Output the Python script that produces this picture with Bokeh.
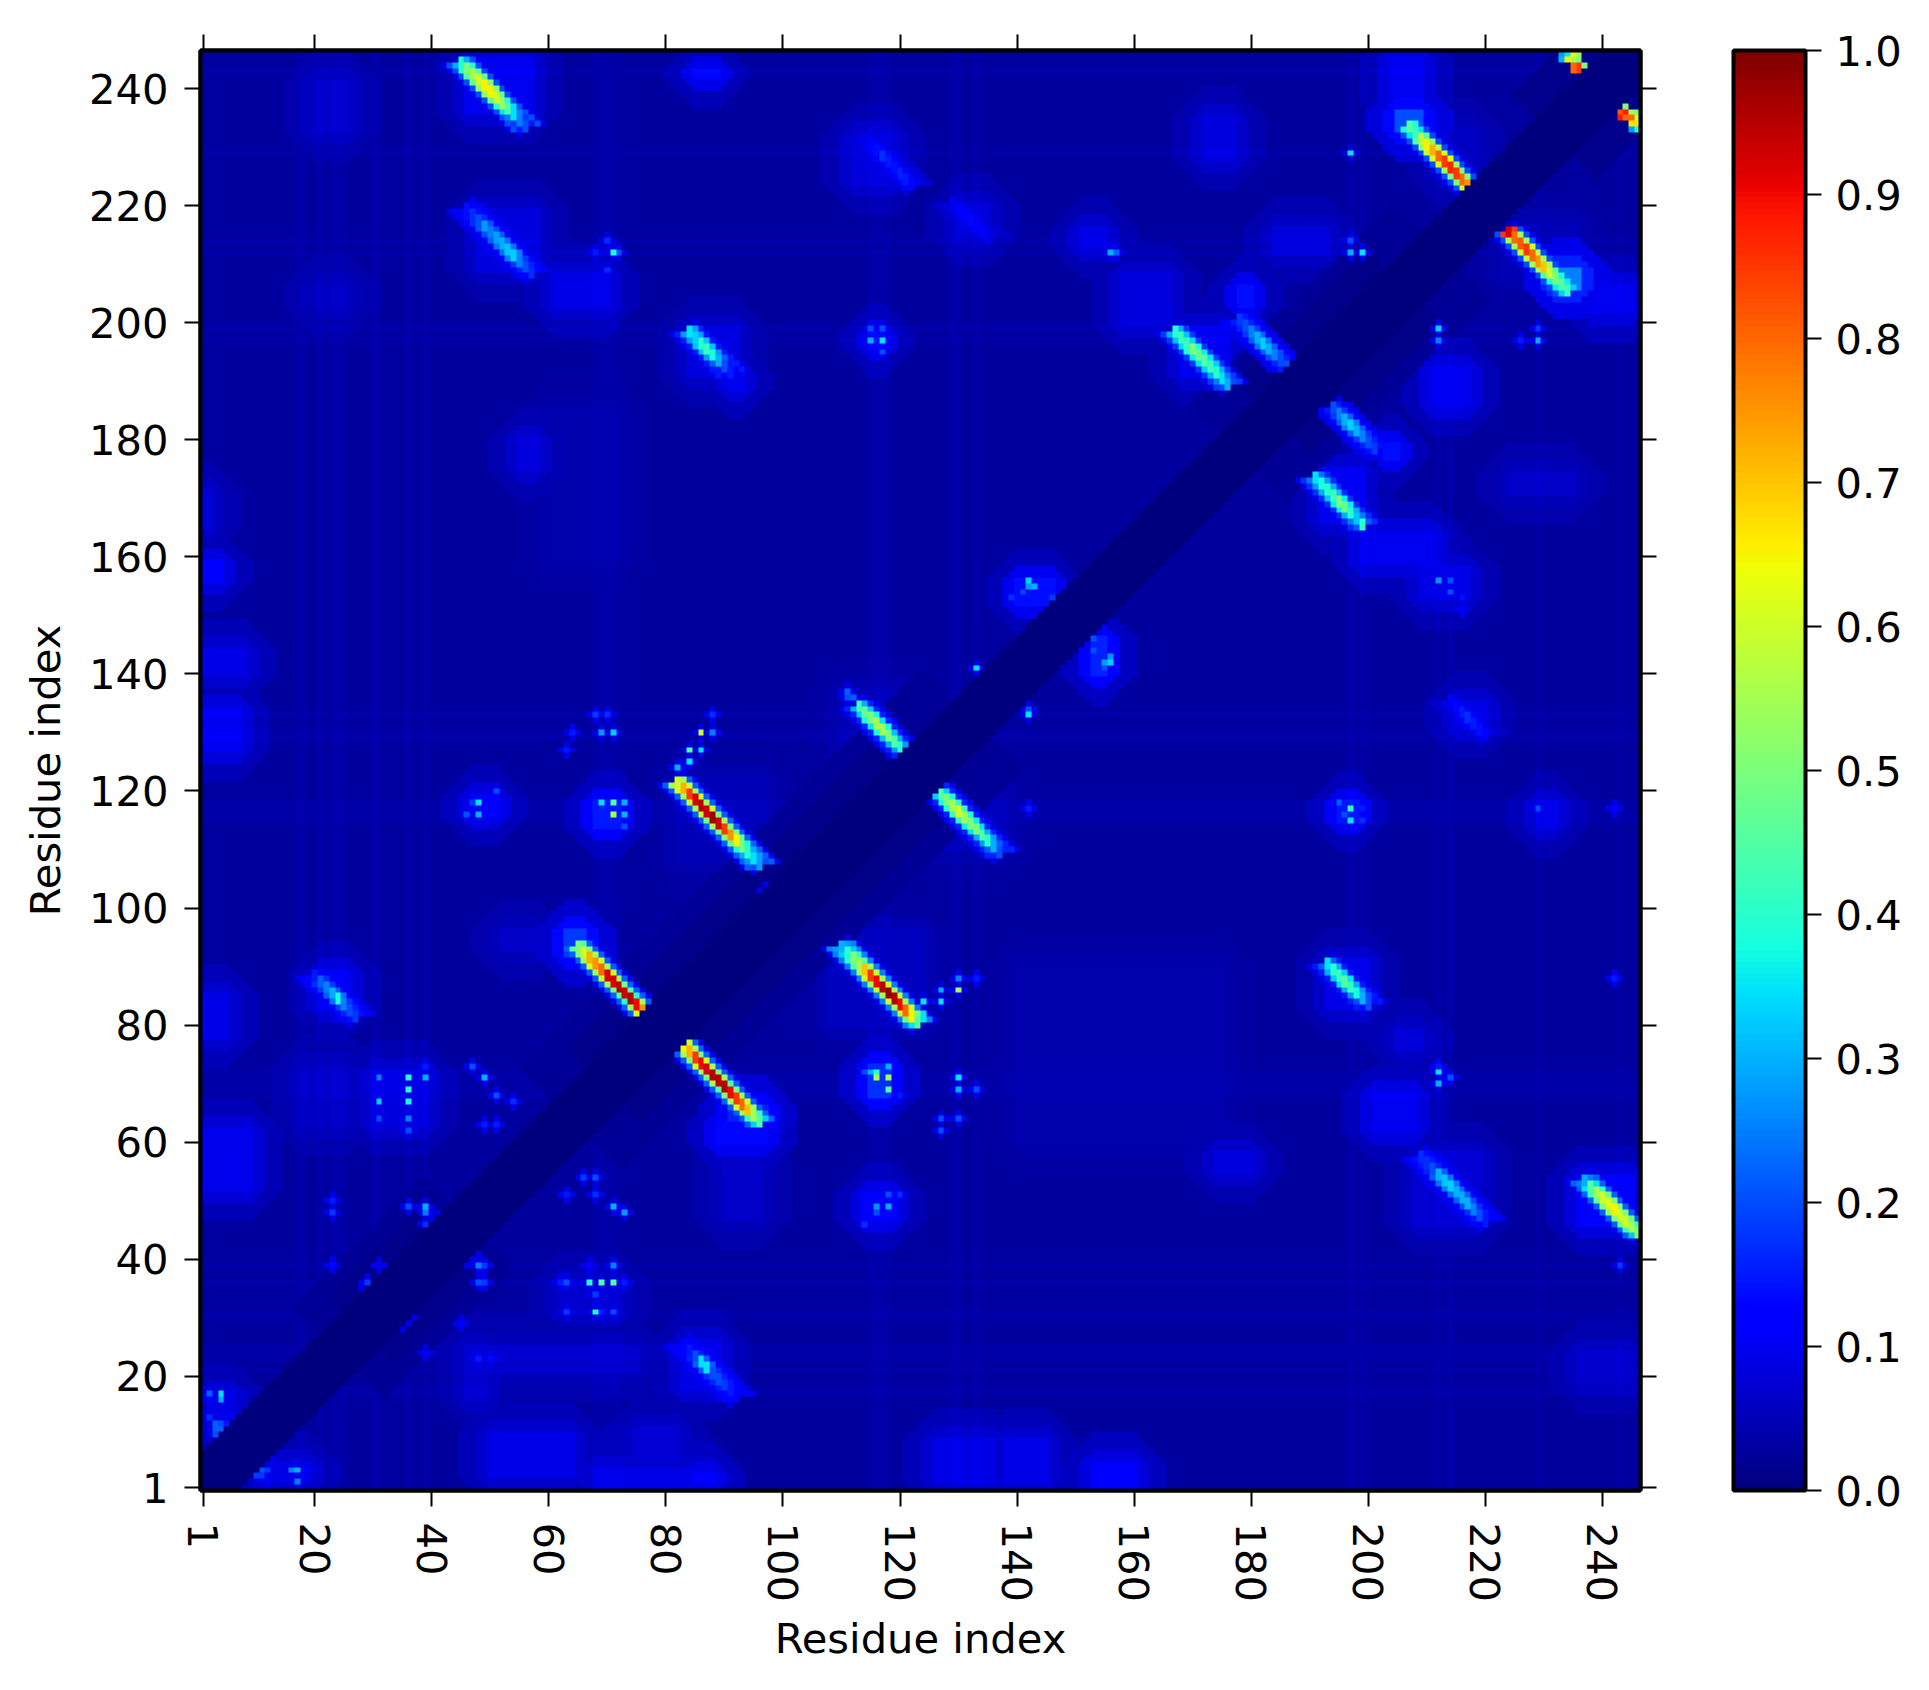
import numpy as np
from math import pi
from bokeh.plotting import figure
from bokeh.models import (LinearColorMapper, ColorBar, FixedTicker, LinearAxis, Range1d,
                          NumeralTickFormatter)
from bokeh.embed import file_html
from bokeh.resources import INLINE

N_RES = 246
AXIS_TICKS = [1, 20, 40, 60, 80, 100, 120, 140, 160, 180, 200, 220, 240]
CBAR_TICKS = [0.0, 0.1, 0.2, 0.3, 0.4, 0.5, 0.6, 0.7, 0.8, 0.9, 1.0]
AXIS_TITLE = "Residue index"

BASE_VALUE = 0.03
DIAG_HALF_WIDTH = 6
DIAG_VALUE = 0.002
# (first residue, last residue, half width, value): darker zones along the diagonal
DARK_BANDS = [(24, 46, 15, 0.02), (28, 42, 11, 0.012), (64, 132, 17, 0.02), (70, 125, 12, 0.011),
              (178, 212, 16, 0.02), (184, 206, 12, 0.011), (232, 246, 14, 0.012)]

# soft glows: (x0, x1, y0, y1, (core, middle ring, outer ring))
GLOWS = [
    (126, 136, 2, 9, (.09, .07, .05)), (138, 145, 2, 9, (.09, .07, .05)), (153, 160, 1, 5, (.11, .085, .055)),
    (50, 64, 3, 10, (.09, .07, .05)), (68, 88, 1, 4, (.09, .07, .05)), (75, 82, 6, 11, (.075, .06, .045)),
    (85, 88, 2, 3, (.12, .09, .06)), (236, 245, 19, 24, (.065, .055, .04)), (174, 180, 55, 58, (.085, .065, .045)),
    (201, 208, 62, 68, (.10, .08, .05)), (205, 209, 76, 79, (.08, .06, .045)), (236, 245, 46, 54, (.11, .08, .05)),
    (1, 9, 52, 62, (.095, .075, .05)), (1, 5, 78, 85, (.09, .07, .05)), (48, 75, 21, 25, (.065, .05, .04)),
    (90, 96, 47, 58, (.065, .05, .04)), (18, 26, 63, 73, (.06, .05, .04)), (52, 58, 93, 96, (.065, .05, .04)),
    (89, 97, 60, 63, (.13, .10, .06)), (95, 97, 103, 106, (.12, .09, .05)),
    (63, 66, 92, 96, (.18, .13, .07)), (91, 97, 64, 66, (.16, .12, .07)), (232, 236, 206, 209, (.25, .16, .09)),
    (205, 209, 233, 236, (.20, .13, .08)), (204, 209, 238, 245, (.10, .08, .05)), (172, 177, 228, 235, (.085, .065, .045)),
    (184, 193, 212, 216, (.08, .06, .045)), (158, 166, 200, 208, (.085, .065, .045)),
    (178, 180, 203, 206, (.14, .10, .05)), (211, 217, 186, 192, (.10, .08, .05)), (189, 192, 178, 180, (.10, .07, .045)),
    (224, 235, 171, 174, (.065, .05, .04)), (199, 211, 159, 164, (.10, .08, .05)), (238, 245, 202, 206, (.10, .08, .05)),
    (61, 70, 203, 208, (.09, .07, .05)), (91, 93, 189, 191, (.10, .08, .05)), (55, 58, 175, 180, (.085, .065, .045)),
    (1, 4, 156, 159, (.11, .085, .05)), (1, 8, 140, 144, (.09, .07, .05)), (1, 7, 127, 134, (.10, .08, .05)),
    (1, 2, 165, 171, (.08, .06, .045)), (20, 26, 233, 241, (.065, .055, .04)), (20, 26, 203, 206, (.06, .05, .04)),
    (112, 119, 224, 232, (.08, .065, .045)), (85, 89, 242, 243, (.13, .09, .05)), (203, 205, 177, 179, (.14, .10, .05)),
    (215, 220, 131, 135, (.09, .07, .045)), (209, 217, 153, 158, (.09, .07, .045)), (130, 135, 215, 220, (.08, .06, .045)),
    (151, 155, 213, 216, (.09, .07, .045)), (229, 232, 114, 118, (.09, .07, .045)),
    (140, 146, 152, 156, (.14, .10, .05)), (153, 155, 140, 146, (.16, .11, .06)), (114, 119, 47, 51, (.12, .085, .05)),
    (115, 118, 68, 73, (.16, .11, .06)), (68, 72, 114, 118, (.14, .10, .055)), (47, 51, 116, 119, (.12, .085, .05)),
    (30, 39, 63, 72, (.085, .065, .045)), (62, 72, 31, 36, (.07, .055, .04)), (195, 198, 115, 118, (.14, .10, .05)),
    (115, 117, 196, 198, (.13, .09, .05)), (83, 89, 18, 26, (.09, .07, .045)), (21, 26, 83, 89, (.10, .075, .045)),
    (46, 49, 16, 25, (.07, .055, .04)), (2, 6, 10, 17, (.09, .07, .045)), (10, 19, 2, 5, (.09, .07, .045)),
    (46, 57, 236, 245, (.10, .07, .045)), (48, 58, 209, 219, (.085, .06, .04)), (84, 92, 191, 199, (.085, .06, .04)),
    (168, 176, 191, 199, (.10, .07, .045)), (192, 199, 166, 175, (.10, .07, .045)), (208, 219, 46, 58, (.075, .055, .04)),
    (193, 200, 83, 91, (.09, .065, .04)), (108, 124, 80, 96, (.055, .045, .035)), (82, 97, 108, 122, (.05, .04, .035)),
    (110, 122, 126, 137, (.05, .04, .035)), (126, 138, 110, 121, (.05, .04, .035)), (212, 218, 225, 233, (.06, .05, .04)),
    (223, 236, 208, 217, (.05, .04, .035)), (60, 72, 160, 185, (.04, .036, .033)), (140, 175, 60, 90, (.04, .036, .033)),
]

# residues whose rows and columns look a little brighter
STRIPE_RESIDUES = [17, 18, 21, 23, 24, 25, 30, 31, 36, 39, 68, 69, 70, 71, 72, 115, 116, 117, 118,
                   129, 130, 133, 197, 199, 212, 214, 229, 243]
STRIPE_DELTA = 0.006
HALO_VALUE = 0.09
SPOT_HALO_VALUE = 0.09

# antidiagonal contacts: (first x, first y, centre values, flank values, outer value)
STREAKS = [
    (65, 94, [.50, .60, .72, .75, .80, .92, .92, .95, .93, .95, .90, .75],
     [.45, .50, .55, .60, .55, .60, .55, .50, .45, .40, .55, .62], .22),
    (83, 77, [.65, .72, .85, .90, .92, .95, .95, .95, .90, .85, .80, .70, .55, .45],
     [.60, .55, .50, .60, .55, .50, .55, .45, .50, .55, .60, .55, .42, .33], .22),
    (110, 94, [.30, .40, .50, .55, .70, .85, .90, .95, .98, .95, .90, .80, .65, .45],
     [.28, .33, .40, .45, .55, .60, .55, .60, .55, .60, .55, .60, .50, .35], .25),
    (82, 122, [.60, .72, .85, .92, .95, .93, .97, .93, .85, .75, .65, .50, .40, .35, .28],
     [.55, .60, .55, .60, .55, .60, .50, .55, .50, .50, .48, .38, .30, .28, .20], .22),
    (113, 135, [.43, .47, .50, .55, .55, .50, .45, .40, .35, .40, .45],
     [.30, .33, .38, .35, .38, .32, .30, .28, .27, .28, .30], .16),
    (126, 121, [.35, .45, .50, .55, .60, .55, .50, .50, .45, .40, .30, .20],
     [.30, .33, .38, .40, .42, .40, .36, .35, .30, .28, .22, .16], .16),
    (193, 91, [.35, .40, .42, .45, .42, .38, .30, .20],
     [.22, .30, .33, .35, .30, .27, .20, .14], .15),
    (209, 58, [.17, .17, .20, .30, .32, .33, .30, .30, .30, .25, .20, .15],
     [.14, .15, .16, .22, .24, .25, .23, .22, .20, .17, .15, .12], .12),
    (237, 54, [.30, .45, .55, .60, .62, .65, .60, .60, .55, .50],
     [.25, .35, .42, .48, .50, .52, .50, .48, .42, .32], .22),
    (45, 245, [.40, .50, .55, .60, .65, .65, .60, .55, .45, .35, .25, .20],
     [.30, .40, .45, .48, .52, .52, .48, .40, .35, .25, .18, .15], .20),
    (46, 220, [.14, .17, .20, .28, .25, .28, .30, .32, .33, .25, .20, .17],
     [.12, .14, .17, .21, .20, .22, .24, .24, .25, .18, .16, .13], .12),
    (84, 199, [.35, .33, .40, .42, .38, .30, .20, .15],
     [.28, .28, .32, .32, .28, .22, .15, .12], .15),
    (167, 199, [.40, .42, .42, .50, .48, .45, .42, .40, .35, .30],
     [.30, .32, .34, .38, .36, .35, .33, .30, .25, .20], .18),
    (178, 201, [.18, .20, .25, .30, .33, .30, .25, .20, .20],
     [.15, .16, .18, .22, .24, .22, .20, .16, .15], .12),
    (191, 174, [.35, .38, .40, .42, .50, .48, .40, .32, .40],
     [.24, .28, .30, .32, .36, .36, .30, .25, .22], .17),
    (194, 186, [.20, .25, .30, .33, .30, .25, .20, .18],
     [.15, .18, .22, .25, .22, .18, .16, .14], .12),
    (207, 234, [.45, .42, .58, .65, .72, .80, .85, .87, .85, .80, .75, .92],
     [.38, .35, .45, .52, .58, .60, .62, .55, .50, .50, .60, .85], .20),
    (224, 216, [.92, .80, .82, .85, .80, .75, .70, .60, .50, .45, .42],
     [.85, .55, .55, .60, .58, .55, .55, .45, .38, .36, .33], .20),
    (20, 89, [.15, .22, .25, .30, .38, .25, .20, .18],
     [.13, .17, .18, .22, .24, .18, .16, .14], .12),
    (83, 26, [.12, .15, .20, .35, .35, .20, .20, .18, .15, .12],
     [.11, .13, .16, .22, .22, .17, .16, .15, .13, .11], .11),
    (114, 232, [.10, .12, .14, .17, .15, .14, .16, .15, .13],
     [.09, .10, .11, .13, .12, .11, .12, .12, .11], .08),
    (129, 221, [.10, .11, .12, .13, .12, .11, .10],
     [.08, .09, .10, .10, .10, .09, .08], .07),
    (214, 136, [.11, .13, .15, .17, .15, .14, .12],
     [.09, .10, .11, .12, .11, .10, .09], .07),
]

# single bright cells: (x, y, value)
SPOTS = [
    (142, 156, .33), (143, 155, .30), (141, 154, .20), (146, 153, .18), (139, 153, .17), (142, 155, .28),
    (153, 146, .20), (153, 144, .20), (156, 142, .33), (155, 142, .28), (156, 143, .27), (155, 141, .20), (153, 140, .15),
    (133, 141, .35), (134, 140, .20), (142, 133, .35), (141, 135, .17), (142, 134, .20),
    (156, 212, .30), (157, 212, .22), (197, 229, .35), (212, 199, .33), (212, 197, .25), (197, 212, .30), (199, 212, .35),
    (197, 214, .20), (229, 197, .30), (229, 199, .18), (226, 197, .15), (212, 156, .27), (214, 156, .20),
    (214, 154, .20), (216, 153, .14), (216, 151, .12),
    (197, 117, .40), (197, 115, .35), (195, 118, .22), (199, 117, .15), (199, 115, .17), (196, 116, .20),
    (212, 72, .35), (212, 70, .30), (214, 71, .20), (212, 73, .15),
    (130, 71, .35), (130, 69, .30), (133, 69, .20), (127, 64, .20), (130, 64, .20), (127, 62, .20),
    (130, 86, .55), (127, 86, .30), (130, 88, .25), (133, 88, .15), (124, 84, .35), (127, 84, .35), (124, 82, .35),
    (242, 88, .15), (229, 117, .20), (242, 117, .12), (142, 117, .15), (243, 39, .18),
    (48, 118, .35), (48, 116, .30), (46, 116, .20), (47, 118, .18), (51, 120, .20),
    (71, 118, .45), (69, 118, .35), (71, 116, .55), (73, 118, .30), (73, 116, .30), (73, 114, .20),
    (47, 73, .20), (49, 71, .30), (51, 68, .20), (54, 67, .17), (49, 63, .15), (51, 63, .15),
    (31, 71, .25), (31, 67, .33), (31, 64, .20), (36, 71, .40), (36, 69, .40), (36, 67, .38), (36, 64, .25),
    (36, 62, .20), (39, 71, .30), (39, 73, .15),
    (66, 54, .18), (68, 54, .20), (71, 49, .30), (73, 48, .28), (63, 51, .15), (68, 51, .17),
    (36, 49, .20), (39, 49, .30), (39, 48, .25), (41, 47, .35), (39, 46, .17), (23, 50, .15), (23, 48, .18),
    (47, 41, .30), (48, 39, .25), (49, 39, .18), (46, 40, .15), (48, 36, .20), (49, 36, .18),
    (29, 36, .18), (29, 35, .22), (31, 39, .12), (23, 39, .13),
    (67, 36, .40), (69, 36, .45), (71, 36, .45), (63, 36, .20), (62, 36, .15), (73, 36, .15), (68, 34, .18),
    (71, 39, .25), (67, 39, .12), (68, 31, .38), (71, 31, .20), (63, 31, .18), (69, 31, .15),
    (35, 29, .17), (36, 30, .12), (45, 29, .11), (48, 23, .15), (50, 23, .13), (39, 24, .10),
    (2, 17, .22), (4, 17, .35), (4, 16, .30), (2, 16, .12), (3, 12, .22), (3, 11, .22), (4, 12, .20), (4, 11, .22),
    (2, 13, .17), (4, 10, .20), (3, 10, .20), (5, 12, .15),
    (10, 4, .20), (12, 4, .18), (11, 5, .18), (17, 4, .30), (16, 4, .25), (17, 2, .25), (12, 6, .10), (12, 2, .12), (19, 4, .11),
    (11, 4, .20), (10, 3, .18), (11, 3, .18),
    (116, 49, .27), (118, 49, .30), (118, 51, .20), (116, 48, .20), (114, 46, .17), (120, 51, .17),
    (115, 72, .30), (116, 72, .40), (118, 73, .30), (116, 71, .55), (118, 71, .55), (118, 69, .45), (114, 72, .20), (120, 68, .15),
    (71, 212, .38), (70, 214, .17), (72, 212, .20), (68, 212, .15), (70, 209, .17),
    (115, 197, .30), (117, 197, .35), (115, 199, .20), (117, 199, .20), (117, 195, .20),
    (86, 130, .60), (84, 127, .45), (86, 127, .35), (88, 130, .25), (84, 125, .35), (82, 124, .30), (88, 133, .17),
    (71, 130, .33), (69, 130, .28), (68, 133, .18), (70, 133, .17), (64, 130, .15), (63, 127, .15),
    (111, 137, .22), (111, 136, .20), (112, 136, .22), (97, 103, .15),
]
# the two small red clusters in the top right corner: no halo around these cells
CORNER_CELLS = [
    (233, 245, .30), (234, 245, .65), (235, 245, .55), (236, 245, .50), (235, 244, .80), (236, 244, .85),
    (237, 244, .50), (238, 244, .82), (235, 243, .80), (236, 243, .85), (237, 243, .88), (234, 246, .35),
    (233, 246, .28), (235, 246, .66), (236, 246, .52),
    (244, 238, .82), (243, 237, .88), (244, 237, .50), (243, 236, .82), (244, 236, .88), (245, 236, .55),
    (246, 236, .50), (243, 235, .88), (244, 235, .80), (245, 235, .80), (246, 235, .60), (245, 234, .67),
    (246, 234, .67), (245, 233, .28), (246, 233, .38),
]

# matplotlib's jet colour map, channel by channel
grid = np.linspace(0, 1, 256)
chan_r = np.interp(grid, [0, .35, .66, .89, 1], [0, 0, 1, 1, .5])
chan_g = np.interp(grid, [0, .125, .375, .64, .91, 1], [0, 0, 1, 1, 0, 0])
chan_b = np.interp(grid, [0, .11, .34, .65, 1], [.5, 1, 1, 0, 0])
jet = ["#%02x%02x%02x" % (int(255 * r), int(255 * g), int(255 * b))
       for r, g, b in zip(chan_r, chan_g, chan_b)]

m = np.full((N_RES, N_RES), BASE_VALUE)
idx = np.arange(1, N_RES + 1)
X, Y = np.meshgrid(idx, idx)
for x0, x1, y0, y1, (core, mid, outer) in GLOWS:
    ddx = np.maximum(np.maximum(x0 - X, X - x1), 0)
    ddy = np.maximum(np.maximum(y0 - Y, Y - y1), 0)
    dist = ddx + ddy
    m = np.where(dist <= 5, np.maximum(m, outer), m)
    m = np.where(dist <= 2, np.maximum(m, mid), m)
    m = np.where(dist == 0, np.maximum(m, core), m)
for r in STRIPE_RESIDUES:
    m[r - 1, :] += STRIPE_DELTA
    m[:, r - 1] += STRIPE_DELTA
for a, b, hw, v in DARK_BANDS:
    mask = (np.abs(X - Y) <= hw) & (X + Y >= 2 * a) & (X + Y <= 2 * b)
    m[mask] = np.minimum(m[mask], v)
m[np.abs(X - Y) <= DIAG_HALF_WIDTH] = DIAG_VALUE


def put(x, y, v):
    if 1 <= x <= N_RES and 1 <= y <= N_RES and abs(x - y) > DIAG_HALF_WIDTH:
        m[y - 1, x - 1] = max(m[y - 1, x - 1], v)


for x0, y0, centre, flank, outer in STREAKS:
    for k, (c, f) in enumerate(zip(centre, flank)):
        x, y = x0 + k, y0 - k
        for dx, dy in [(3, 0), (-3, -1), (1, 1), (-1, -2)]:
            put(x + dx, y + dy, min(HALO_VALUE, outer))
        put(x + 2, y, outer)
        put(x - 2, y - 1, outer)
        put(x + 1, y, f)
        put(x - 1, y - 1, f)
        put(x, y, c)
        put(x, y - 1, c)
for x, y, v in SPOTS:
    for dx, dy in [(1, 0), (-1, 0), (0, 1), (0, -1)]:
        put(x + dx, y + dy, min(SPOT_HALO_VALUE, v))
for x, y, v in SPOTS + CORNER_CELLS:
    put(x, y, v)

# six image pixels per residue keep the cells crisp when the browser scales the picture
UPSCALE = 6
cells = np.kron(m, np.ones((UPSCALE, UPSCALE)))

BLACK = "#000000"
FONT = "DejaVu Sans"
TEXT_SIZE = "41.67px"

p = figure(frame_width=1440, frame_height=1440, output_backend="svg", toolbar_location=None,
           x_range=Range1d(0.5, 246.5), y_range=Range1d(0.5, 246.5),
           x_axis_type=None, y_axis_type=None,
           min_border_left=200, min_border_top=50, min_border_bottom=120, min_border_right=280,
           background_fill_color="#ffffff", border_fill_color="#ffffff")
p.grid.visible = False
mapper = LinearColorMapper(palette=jet, low=0, high=1)
p.image(image=[cells], x=0.5, y=0.5, dw=246, dh=246, color_mapper=mapper)
p.outline_line_color = BLACK
p.outline_line_width = 4


def make_axis(labelled, rotated=False, title_gap=5):
    ax = LinearAxis(ticker=FixedTicker(ticks=AXIS_TICKS))
    ax.axis_line_color = BLACK
    ax.axis_line_width = 4
    ax.major_tick_line_color = BLACK
    ax.major_tick_line_width = 2
    ax.major_tick_in = 0
    ax.major_tick_out = 16
    ax.minor_tick_line_color = None
    ax.major_label_standoff = 16
    ax.major_label_text_font = FONT
    if labelled:
        ax.major_label_text_font_size = TEXT_SIZE
        ax.major_label_text_color = BLACK
        ax.axis_label = AXIS_TITLE
        ax.axis_label_standoff = title_gap
        ax.axis_label_text_font = FONT
        ax.axis_label_text_font_size = TEXT_SIZE
        ax.axis_label_text_font_style = "normal"
        ax.axis_label_text_color = BLACK
    else:
        ax.major_label_text_font_size = "0px"
        ax.major_label_text_color = None
    if rotated:
        ax.major_label_orientation = -pi / 2
    return ax


p.add_layout(make_axis(True, True, 9), "below")
p.add_layout(make_axis(True, False, 16), "left")
p.add_layout(make_axis(False), "above")
p.add_layout(make_axis(False), "right")

cb = ColorBar(color_mapper=mapper, ticker=FixedTicker(ticks=CBAR_TICKS),
              formatter=NumeralTickFormatter(format="0.0"),
              width=72, height=1440, padding=0, margin=0, location=(1533, 0),
              bar_line_color=BLACK, bar_line_width=4,
              major_tick_line_color=BLACK, major_tick_line_width=2,
              major_tick_in=0, major_tick_out=16, minor_tick_line_color=None,
              major_label_text_font=FONT, major_label_text_font_size=TEXT_SIZE,
              major_label_text_color=BLACK, label_standoff=14,
              background_fill_color=None)
p.add_layout(cb)

open("out.html", "w").write(file_html(p, INLINE))
